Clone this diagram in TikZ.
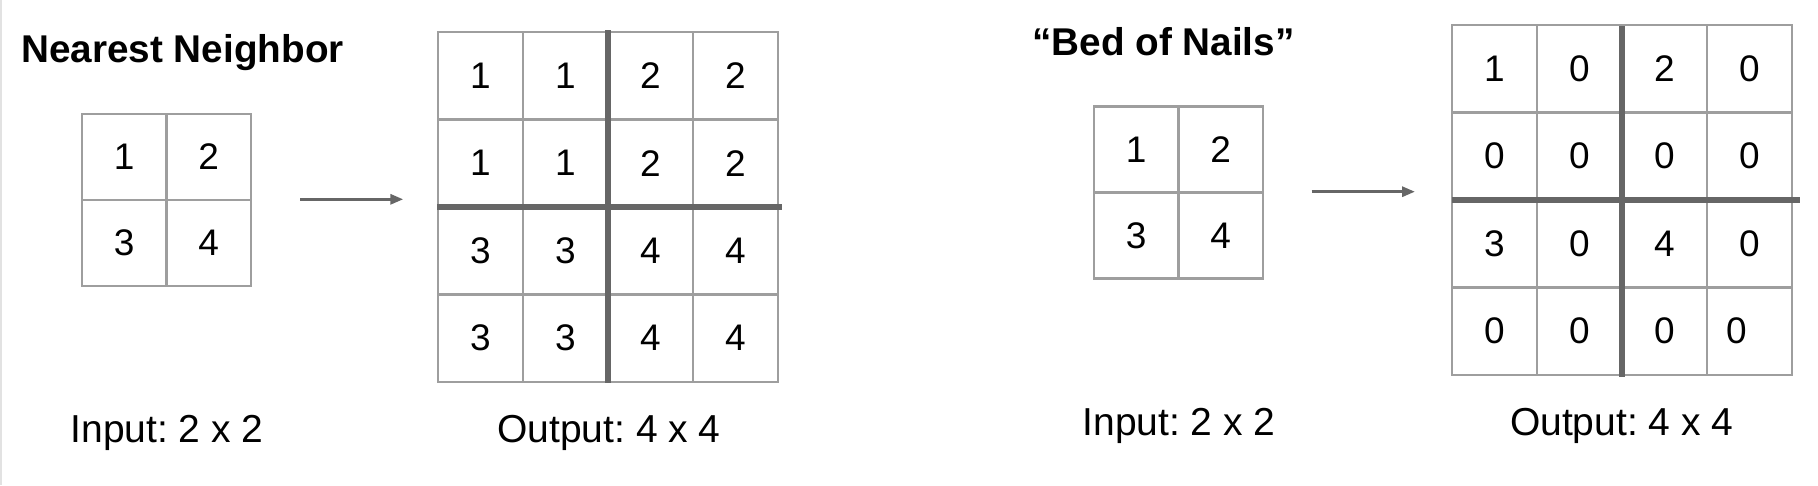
\documentclass[tikz,border=0pt]{standalone}
\usepackage{fontspec}
\setmainfont{Liberation Sans}
\usetikzlibrary{arrows.meta}
\definecolor{gridgray}{RGB}{158,158,158}
\definecolor{boldgray}{RGB}{102,102,102}
\definecolor{edgegray}{RGB}{226,226,226}
\frenchspacing

\begin{document}
\begin{tikzpicture}[x=1pt,y=-1pt]

    \tikzset{
      cell/.style = {draw=gridgray, line width=2.7pt, minimum width=85pt, minimum height=87.5pt,
                     inner sep=0pt, outer sep=0pt, font=\fontsize{37}{39}\selectfont},
      incell/.style = {cell, minimum width=84.5pt, minimum height=86pt},
      split/.style = {draw=boldgray, line width=6.5pt},
      arr/.style = {draw=boldgray, line width=3pt, -{Triangle[length=13pt,width=10pt]}},
      title/.style = {anchor=base west, inner sep=0pt, font=\fontsize{38.7}{40}\selectfont\bfseries},
      caption/.style = {anchor=base, inner sep=0pt, font=\fontsize{39}{41}\selectfont}
    }
    \useasboundingbox (0,0) rectangle (1818,485);
    \draw[edgegray, line width=1.5pt] (0.75,0) -- (0.75,485);

    % nearest neighbor
    \node[title] (nntitle) at (21,62.7) {Nearest Neighbor};

    \node[incell] (in11) at (124.25,157) {1};
    \node[incell] (in12) at (208.75,157) {2};
    \node[incell] (in21) at (124.25,243) {3};
    \node[incell] (in22) at (208.75,243) {4};

    \coordinate (nnfrom) at (300,199.3);
    \coordinate (nnto) at (403.3,199.3);
    \draw[arr] (nnfrom) -- (nnto);

    \node[cell] (nn11) at (480.5,75.75) {1};
    \node[cell] (nn12) at (565.5,75.75) {1};
    \node[cell] (nn13) at (650.5,75.75) {2};
    \node[cell] (nn14) at (735.5,75.75) {2};
    \node[cell] (nn21) at (480.5,163.25) {1};
    \node[cell] (nn22) at (565.5,163.25) {1};
    \node[cell] (nn23) at (650.5,163.25) {2};
    \node[cell] (nn24) at (735.5,163.25) {2};
    \node[cell] (nn31) at (480.5,250.75) {3};
    \node[cell] (nn32) at (565.5,250.75) {3};
    \node[cell] (nn33) at (650.5,250.75) {4};
    \node[cell] (nn34) at (735.5,250.75) {4};
    \node[cell] (nn41) at (480.5,338.25) {3};
    \node[cell] (nn42) at (565.5,338.25) {3};
    \node[cell] (nn43) at (650.5,338.25) {4};
    \node[cell] (nn44) at (735.5,338.25) {4};
    \draw[split] ([yshift=2pt]nn13.north west) -- ([yshift=-1pt]nn43.south west);
    \draw[split] ([xshift=-1pt]nn31.north west) -- ([xshift=4pt]nn34.north east);

    \node[caption] (nnin) at (167,442) {Input: 2 x 2};
    \node[caption] (nnout) at (609,442) {Output: 4 x 4};

    % bed of nails
    \node[title] (bntitle) at (1032,55) {“Bed of Nails”};

    \node[incell] (bi11) at (1136.25,149.7) {1};
    \node[incell] (bi12) at (1220.75,149.7) {2};
    \node[incell] (bi21) at (1136.25,235.7) {3};
    \node[incell] (bi22) at (1220.75,235.7) {4};

    \coordinate (bnfrom) at (1311.7,191.7);
    \coordinate (bnto) at (1415,191.7);
    \draw[arr] (bnfrom) -- (bnto);

    \node[cell] (bn11) at (1494.5,68.75) {1};
    \node[cell] (bn12) at (1579.5,68.75) {0};
    \node[cell] (bn13) at (1664.5,68.75) {2};
    \node[cell] (bn14) at (1749.5,68.75) {0};
    \node[cell] (bn21) at (1494.5,156.25) {0};
    \node[cell] (bn22) at (1579.5,156.25) {0};
    \node[cell] (bn23) at (1664.5,156.25) {0};
    \node[cell] (bn24) at (1749.5,156.25) {0};
    \node[cell] (bn31) at (1494.5,243.75) {3};
    \node[cell] (bn32) at (1579.5,243.75) {0};
    \node[cell] (bn33) at (1664.5,243.75) {4};
    \node[cell] (bn34) at (1749.5,243.75) {0};
    \node[cell] (bn41) at (1494.5,331.25) {0};
    \node[cell] (bn42) at (1579.5,331.25) {0};
    \node[cell] (bn43) at (1664.5,331.25) {0};
    \node[cell] (bn44) at (1749.5,331.25) {0\hspace*{26pt}};
    \draw[split] ([yshift=-1pt]bn13.north west) -- ([yshift=-2pt]bn43.south west);
    \draw[split] (bn31.north west) -- ([xshift=8pt]bn34.north east);

    \node[caption] (bnin) at (1179,435) {Input: 2 x 2};
    \node[caption] (bnout) at (1621.7,435) {Output: 4 x 4};

\end{tikzpicture}
\end{document}
